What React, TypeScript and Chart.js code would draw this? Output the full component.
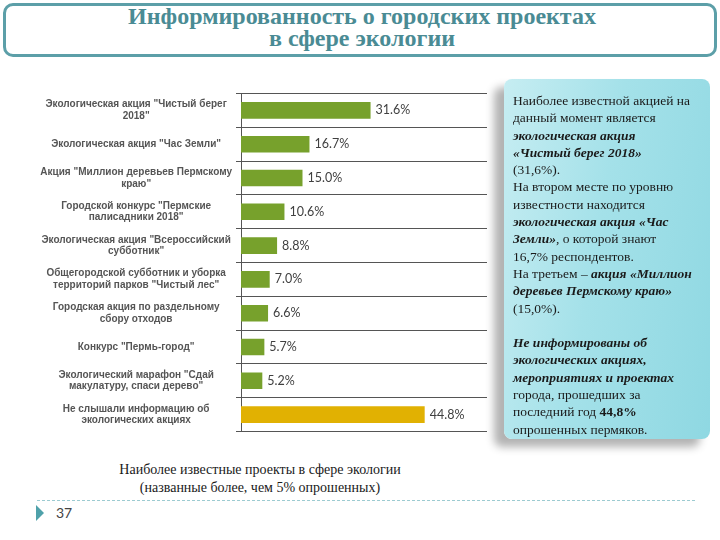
import React, { useEffect, useRef } from "react";
import { Chart, registerables } from "chart.js";

Chart.register(...registerables);

const categories: string[][] = [
  ["Экологическая акция \"Чистый берег", "2018\""],
  ["Экологическая акция \"Час Земли\""],
  ["Акция \"Миллион деревьев Пермскому", "краю\""],
  ["Городской конкурс \"Пермские", "палисадники 2018\""],
  ["Экологическая акция \"Всероссийский", "субботник\""],
  ["Общегородской субботник и уборка", "территорий парков \"Чистый лес\""],
  ["Городская акция по раздельному", "сбору отходов"],
  ["Конкурс \"Пермь-город\""],
  ["Экологический марафон \"Сдай", "макулатуру, спаси дерево\""],
  ["Не слышали информацию об", "экологических акциях"],
];

const values: number[] = [31.6, 16.7, 15.0, 10.6, 8.8, 7.0, 6.6, 5.7, 5.2, 44.8];

const highlightIndex = 9;
const xMax = 60;

const GREEN = "#77a12c";
const YELLOW = "#e1b102";

const valueLabels = {
  id: "valueLabels",
  afterDatasetsDraw(chart: any) {
    const ctx = chart.ctx;
    const meta = chart.getDatasetMeta(0);
    ctx.save();
    ctx.font = "12.5px Lato";
    ctx.fillStyle = "#404040";
    ctx.textBaseline = "middle";
    ctx.textAlign = "left";
    meta.data.forEach((bar: any, i: number) => {
      ctx.fillText(values[i].toFixed(1) + "%", bar.x + 5, bar.y);
    });
    ctx.restore();
  },
};

function BarChart() {
  const ref = useRef<HTMLCanvasElement>(null);
  useEffect(() => {
    if (!ref.current) return;
    const chart = new Chart(ref.current, {
      type: "bar",
      data: {
        labels: categories,
        datasets: [
          {
            data: values,
            backgroundColor: values.map((_, i) => (i === highlightIndex ? YELLOW : GREEN)),
            categoryPercentage: 1,
            barPercentage: 0.49,
          },
        ],
      },
      options: {
        indexAxis: "y",
        responsive: false,
        maintainAspectRatio: false,
        animation: false,
        layout: { padding: { top: 5, bottom: 5, left: 0, right: 0 } },
        plugins: { legend: { display: false }, tooltip: { enabled: false } },
        scales: {
          x: { display: false, min: 0, max: xMax },
          y: {
            grid: {
              offset: true,
              color: (c: any) => (c.index === categories.length ? "rgba(0,0,0,0)" : "#555555"),
              tickColor: "#555555",
              tickLength: 5,
              lineWidth: 1,
            },
            border: { display: true, color: "#555555", width: 1 },
            ticks: {
              crossAlign: "center",
              autoSkip: false,
              padding: 4,
              color: "#555555",
              font: { family: "Liberation Sans", size: 10, weight: "bold", lineHeight: 1.15 },
            },
            afterFit: (s: any) => {
              s.width = 241;
            },
          },
        },
      },
      plugins: [valueLabels],
    });
    return () => chart.destroy();
  }, []);
  return <canvas ref={ref} width={487} height={369} style={{ position: "absolute", left: 0, top: 78 }} />;
}

const bi: React.CSSProperties = { fontWeight: "bold", fontStyle: "italic" };

export default function App() {
  return (
    <div
      style={{
        position: "fixed",
        left: 0,
        top: 0,
        width: 720,
        height: 540,
        background: "#ffffff",
        overflow: "hidden",
      }}
    >
      <div
        style={{
          position: "absolute",
          left: 3,
          top: 3,
          width: 708,
          height: 48,
          border: "3px solid #5c9fa8",
          borderRadius: 10,
          background: "#fff",
        }}
      />
      <div
        style={{
          position: "absolute",
          left: 0,
          top: 5,
          width: 724,
          textAlign: "center",
          fontFamily: "'Liberation Serif', serif",
          fontWeight: "bold",
          fontSize: 24,
          lineHeight: "22px",
          color: "#4a8b94",
        }}
      >
        Информированность о городских проектах
        <br />в сфере экологии
      </div>

      <BarChart />

      <div
        style={{
          position: "absolute",
          left: 504,
          top: 79,
          width: 206,
          height: 360,
          borderRadius: 8,
          background: "linear-gradient(100deg, #c6edf2 0%, #a4e1e9 45%, #8fd8e2 100%)",
          boxShadow: "-10px 8px 8px rgba(0,0,0,0.3)",
        }}
      />
      <div
        style={{
          position: "absolute",
          left: 513,
          top: 92,
          width: 200,
          fontFamily: "'Liberation Serif', serif",
          fontSize: 13.5,
          lineHeight: "17.3px",
          color: "#1a1a1a",
          whiteSpace: "nowrap",
        }}
      >
        Наиболее известной акцией на
        <br />
        данный момент является
        <br />
        <span style={bi}>экологическая акция</span>
        <br />
        <span style={bi}>«Чистый берег 2018»</span>
        <br />
        (31,6%).
        <br />
        На втором месте по уровню
        <br />
        известности находится
        <br />
        <span style={bi}>экологическая акция «Час</span>
        <br />
        <span style={bi}>Земли»</span>, о которой знают
        <br />
        16,7% респондентов.
        <br />
        На третьем – <span style={bi}>акция «Миллион</span>
        <br />
        <span style={bi}>деревьев Пермскому краю»</span>
        <br />
        (15,0%).
        <br />
        <br />
        <span style={bi}>Не информированы об</span>
        <br />
        <span style={bi}>экологических акциях,</span>
        <br />
        <span style={bi}>мероприятиях и проектах</span>
        <br />
        города, прошедших за
        <br />
        последний год <b>44,8%</b>
        <br />
        опрошенных пермяков.
      </div>

      <div
        style={{
          position: "absolute",
          left: 60,
          top: 461,
          width: 400,
          textAlign: "center",
          fontFamily: "'Liberation Serif', serif",
          fontSize: 14,
          lineHeight: "18px",
          color: "#1a1a1a",
        }}
      >
        Наиболее известные проекты в сфере экологии
        <br />
        (названные более, чем 5% опрошенных)
      </div>

      <div
        style={{
          position: "absolute",
          left: 37,
          top: 500,
          width: 658,
          borderTop: "1px dashed #9ccbd1",
        }}
      />
      <div
        style={{
          position: "absolute",
          left: 36,
          top: 505,
          width: 0,
          height: 0,
          borderTop: "8px solid transparent",
          borderBottom: "8px solid transparent",
          borderLeft: "8px solid #4fa1aa",
        }}
      />
      <div
        style={{
          position: "absolute",
          left: 56,
          top: 504,
          fontFamily: "Lato, sans-serif",
          fontSize: 14,
          color: "#444",
        }}
      >
        37
      </div>
    </div>
  );
}
